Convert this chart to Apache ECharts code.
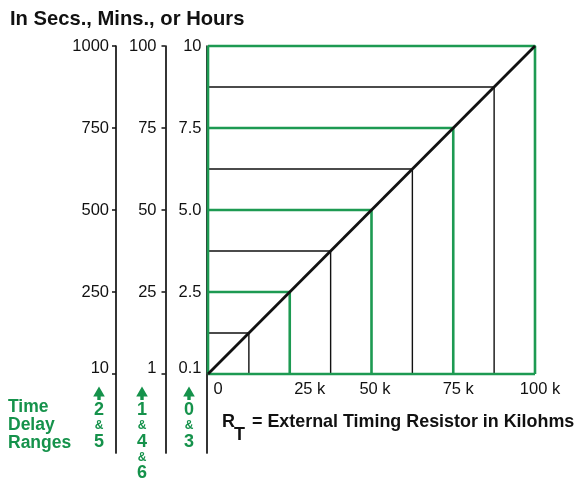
<!DOCTYPE html>
<html>
<head>
<meta charset="utf-8">
<script src="https://cdn.jsdelivr.net/npm/echarts@6/dist/echarts.min.js"></script>
<style>
  html, body { margin: 0; padding: 0; background: #fff; }
  #chart { width: 577px; height: 480px; }
</style>
</head>
<body>
<div id="chart"></div>
<script>
// ---- data ----
const yTicks = [0, 2.5, 5, 7.5, 10];
const hoursLabels = ['0.1', '2.5', '5.0', '7.5', '10'];
const minsLabels = ['1', '25', '50', '75', '100'];
const secsLabels = ['10', '250', '500', '750', '1000'];
const xTicks = [0, 25, 50, 75, 100];
const xLabels = ['0', '25 k', '50 k', '75 k', '100 k'];
const levels = [1.25, 2.5, 3.75, 5, 6.25, 7.5, 8.75, 10];
const resistK = [12.5, 25, 37.5, 50, 62.5, 75, 87.5, 100];
const majorLevel = [false, true, false, true, false, true, false, true];
const diagonal = [[0, 0], [100, 10]];
const bottomEdge = [[0, 0], [100, 0]];
const leftEdge = [[0, 0], [0, 10]];

const GREEN = '#1d9a52';
const TGREEN = '#15924b';
const FONT = 'Liberation Sans, Arial, sans-serif';

const chart = echarts.init(document.getElementById('chart'), null, { renderer: 'canvas' });

function yAxisDef(labels, offset, margin, ticks) {
  return {
    type: 'value', position: 'left', offset: offset,
    min: -2.41, max: 10,
    axisLine: { show: true, onZero: false, lineStyle: { color: '#111', width: 1.7 } },
    axisTick: { show: ticks, customValues: yTicks, length: 4, lineStyle: { color: '#111', width: 1.5 } },
    splitLine: { show: false },
    axisLabel: {
      customValues: yTicks, margin: margin,
      color: '#111', fontFamily: FONT, fontSize: 16.5,
      formatter: function (v) {
        const i = yTicks.indexOf(v);
        if (i < 0) return '';
        return i === 0 ? '{b|' + labels[i] + '}' : labels[i];
      },
      rich: { b: { padding: [0, 0, 11, 0], color: '#111', fontFamily: FONT, fontSize: 16.5 } }
    }
  };
}

const series = [];
levels.forEach(function (v, i) {
  series.push({
    type: 'line', xAxisIndex: 0, yAxisIndex: 0, symbol: 'none', silent: true, clip: false,
    z: majorLevel[i] ? 3 : 2,
    lineStyle: { color: majorLevel[i] ? GREEN : '#111', width: majorLevel[i] ? 2.6 : 1.4 },
    data: [[0, v], [resistK[i], v], [resistK[i], 0]]
  });
});
series.push({
  type: 'line', symbol: 'none', silent: true, clip: false, z: 3,
  lineStyle: { color: GREEN, width: 2.6 }, data: bottomEdge
});
series.push({
  type: 'line', symbol: 'none', silent: true, clip: false, z: 3,
  lineStyle: { color: GREEN, width: 2.6 }, data: leftEdge
});
series.push({
  type: 'line', symbol: 'none', silent: true, clip: false, z: 4,
  lineStyle: { color: '#111', width: 2.8 }, data: diagonal
});

function txt(x, y, s, size, color, bold, align) {
  return {
    type: 'text', x: x, y: y, silent: true,
    style: {
      text: s, fill: color, fontFamily: FONT, fontSize: size,
      fontWeight: bold ? 'bold' : 'normal',
      align: align || 'left', verticalAlign: 'middle'
    }
  };
}
function arrow(x, y) {
  return {
    type: 'polygon', x: x, y: y, silent: true,
    shape: { points: [[0, -6.5], [5.8, 3.5], [1.7, 3.5], [1.7, 7], [-1.7, 7], [-1.7, 3.5], [-5.8, 3.5]] },
    style: { fill: TGREEN }
  };
}

const graphics = [
  txt(10, 19, 'In Secs., Mins., or Hours', 20.2, '#111', true),
  txt(8, 407, 'Time', 17.5, TGREEN, true),
  txt(8, 425, 'Delay', 17.5, TGREEN, true),
  txt(8, 443, 'Ranges', 17.5, TGREEN, true),
  arrow(99, 393), arrow(142, 393), arrow(189, 393),
  txt(99, 410, '2', 18, TGREEN, true, 'center'),
  txt(99, 426, '&', 12, TGREEN, true, 'center'),
  txt(99, 442, '5', 18, TGREEN, true, 'center'),
  txt(142, 410, '1', 18, TGREEN, true, 'center'),
  txt(142, 426, '&', 12, TGREEN, true, 'center'),
  txt(142, 442, '4', 18, TGREEN, true, 'center'),
  txt(142, 458, '&', 12, TGREEN, true, 'center'),
  txt(142, 473, '6', 18, TGREEN, true, 'center'),
  txt(189, 410, '0', 18, TGREEN, true, 'center'),
  txt(189, 426, '&', 12, TGREEN, true, 'center'),
  txt(189, 442, '3', 18, TGREEN, true, 'center'),
  txt(222, 422, 'R', 18, '#111', true),
  txt(234, 435, 'T', 18, '#111', true),
  txt(252, 422, '= External Timing Resistor in Kilohms', 17.9, '#111', true)
];

const option = {
  animation: false,
  backgroundColor: '#fff',
  grid: { left: 208, top: 46, width: 327, bottom: 27, containLabel: false },
  xAxis: {
    type: 'value', min: 0, max: 100,
    axisLine: { show: false, onZero: false },
    axisTick: { show: false },
    splitLine: { show: false },
    axisLabel: {
      customValues: xTicks, margin: -72,
      color: '#111', fontFamily: FONT, fontSize: 16.5,
      formatter: function (v) {
        const i = xTicks.indexOf(v);
        return i < 0 ? '' : '{l' + i + '|' + xLabels[i] + '}';
      },
      rich: {
        l0: { padding: [0, 0, 0, 20], fontFamily: FONT, fontSize: 16.5, color: '#111' },
        l1: { padding: [0, 0, 0, 40], fontFamily: FONT, fontSize: 16.5, color: '#111' },
        l2: { padding: [0, 0, 0, 7], fontFamily: FONT, fontSize: 16.5, color: '#111' },
        l3: { padding: [0, 0, 0, 10], fontFamily: FONT, fontSize: 16.5, color: '#111' },
        l4: { padding: [0, 0, 0, 10], fontFamily: FONT, fontSize: 16.5, color: '#111' }
      }
    }
  },
  yAxis: [
    yAxisDef(hoursLabels, 1.5, 5, false),
    yAxisDef(minsLabels, 42.5, 9, true),
    yAxisDef(secsLabels, 92, 7, true)
  ],
  series: series,
  graphic: graphics
};
chart.setOption(option);
</script>
</body>
</html>
